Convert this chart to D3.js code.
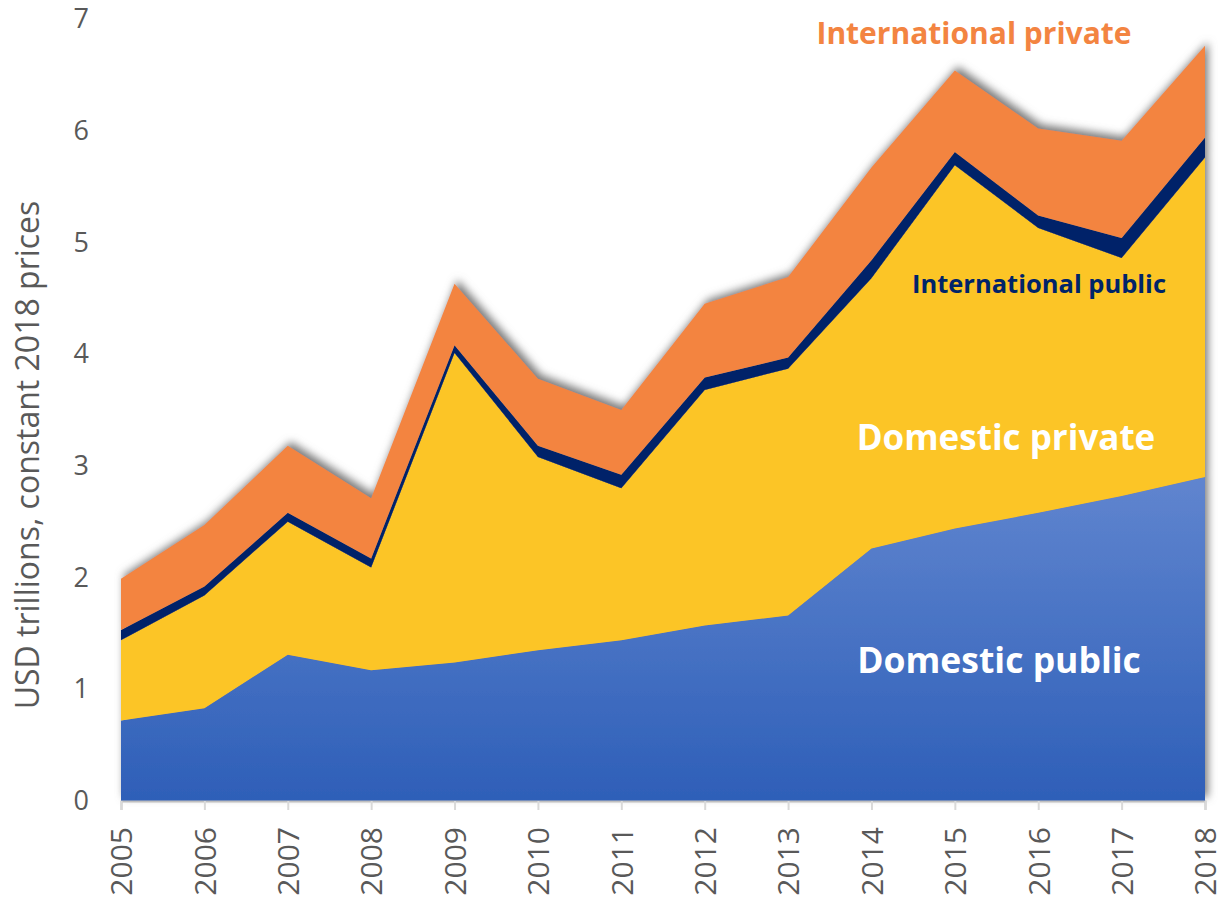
<!DOCTYPE html>
<html>
<head>
<meta charset="utf-8">
<script src="https://cdn.jsdelivr.net/npm/d3@7"></script>
<style>
  body { margin: 0; background: #fff; }
  svg { display: block; }
  .axis text { font-family: "Open Sans", sans-serif; fill: #595959; }
  .lbl { font-family: "Open Sans", sans-serif; font-weight: 700; }
</style>
</head>
<body>
<svg width="1225" height="903"></svg>
<script>
// data (USD trillions, constant 2018 prices)
var years = [2005, 2006, 2007, 2008, 2009, 2010, 2011, 2012, 2013, 2014, 2015, 2016, 2017, 2018];
var domesticPublic  = [0.72, 0.83, 1.31, 1.17, 1.24, 1.35, 1.44, 1.57, 1.66, 2.26, 2.44, 2.58, 2.73, 2.90];
var domesticPrivate = [0.72, 1.01, 1.19, 0.92, 2.77, 1.73, 1.36, 2.11, 2.21, 2.42, 3.25, 2.55, 2.13, 2.86];
var intlPublic      = [0.09, 0.08, 0.08, 0.08, 0.07, 0.10, 0.12, 0.11, 0.10, 0.16, 0.12, 0.11, 0.18, 0.18];
var intlPrivate     = [0.46, 0.55, 0.60, 0.54, 0.55, 0.60, 0.58, 0.66, 0.72, 0.83, 0.73, 0.78, 0.87, 0.82];
var seriesKeys = ["Domestic public", "Domestic private", "International public", "International private"];
var yTicks = [0, 1, 2, 3, 4, 5, 6, 7];

var svg = d3.select("svg"),
    margin = {top: 19, right: 20, bottom: 102, left: 121},
    width = +svg.attr("width") - margin.left - margin.right,
    height = +svg.attr("height") - margin.top - margin.bottom;

var g = svg.append("g").attr("transform", "translate(" + margin.left + "," + margin.top + ")");

// build table for the stack
var table = years.map(function(yr, i) {
  return {
    year: yr,
    "Domestic public": domesticPublic[i],
    "Domestic private": domesticPrivate[i],
    "International public": intlPublic[i],
    "International private": intlPrivate[i]
  };
});

var x = d3.scaleLinear().domain([2005, 2018]).range([0, width]);
var y = d3.scaleLinear().domain([0, 7]).range([height, 0]);

var stacked = d3.stack().keys(seriesKeys)(table);

var colors = {
  "Domestic public": "url(#blueGrad)",
  "Domestic private": "#fcc527",
  "International public": "#002469",
  "International private": "#f38441"
};

var defs = svg.append("defs");

var grad = defs.append("linearGradient")
    .attr("id", "blueGrad")
    .attr("gradientUnits", "userSpaceOnUse")
    .attr("x1", 0).attr("x2", 0)
    .attr("y1", y(2.9)).attr("y2", y(0));
grad.append("stop").attr("offset", "0%").attr("stop-color", "#6085cf");
grad.append("stop").attr("offset", "100%").attr("stop-color", "#2e5fb8");

// soft grey shadow round the stack
var filt = defs.append("filter")
    .attr("id", "shadow")
    .attr("x", "-5%").attr("y", "-10%")
    .attr("width", "110%").attr("height", "120%");
filt.append("feGaussianBlur").attr("in", "SourceAlpha").attr("stdDeviation", 4).attr("result", "blur");
filt.append("feOffset").attr("in", "blur").attr("dx", 3).attr("dy", -4).attr("result", "off");
filt.append("feFlood").attr("flood-color", "#7a7a7a").attr("flood-opacity", 1);
filt.append("feComposite").attr("in2", "off").attr("operator", "in").attr("result", "sh");
var merge = filt.append("feMerge");
merge.append("feMergeNode").attr("in", "sh");
merge.append("feMergeNode").attr("in", "SourceGraphic");

var area = d3.area()
    .x(function(d) { return x(d.data.year); })
    .y0(function(d) { return y(d[0]); })
    .y1(function(d) { return y(d[1]); });

g.append("g")
    .attr("filter", "url(#shadow)")
  .selectAll("path")
  .data(stacked)
  .enter().append("path")
    .attr("fill", function(d) { return colors[d.key]; })
    .attr("d", area);

// x axis
var xAxis = g.append("g")
    .attr("class", "axis")
    .attr("transform", "translate(0," + height + ")")
    .call(d3.axisBottom(x).tickValues(years).tickFormat(d3.format("d")).tickSize(9).tickPadding(6));
xAxis.select(".domain").attr("stroke", "#bfbfbf").attr("stroke-width", 2);
xAxis.selectAll(".tick line").attr("stroke", "#d9d9d9").attr("stroke-width", 2);
xAxis.selectAll(".tick text")
    .attr("font-size", 30)
    .attr("transform", "rotate(-90)")
    .attr("text-anchor", "end")
    .attr("x", -26)
    .attr("y", 0)
    .attr("dy", "0.36em");

// y axis (labels only)
var yAxis = g.append("g")
    .attr("class", "axis")
    .call(d3.axisLeft(y).tickValues(yTicks).tickFormat(d3.format("d")).tickSize(0).tickPadding(32));
yAxis.select(".domain").remove();
yAxis.selectAll(".tick text").attr("font-size", 27);

svg.append("text")
    .attr("class", "axis")
    .attr("transform", "translate(39," + 455 + ") rotate(-90)")
    .attr("text-anchor", "middle")
    .attr("font-family", "Open Sans, sans-serif")
    .attr("font-size", 32)
    .attr("fill", "#595959")
    .text("USD trillions, constant 2018 prices");

// series labels
var labels = [
  {text: "International private", x: 974, y: 44, size: 30, color: "#f38441"},
  {text: "International public", x: 1039, y: 293, size: 25.5, color: "#002469"},
  {text: "Domestic private", x: 1006, y: 450, size: 35, color: "#ffffff"},
  {text: "Domestic public", x: 999, y: 673, size: 35.5, color: "#ffffff"}
];
svg.selectAll(".lbl")
  .data(labels)
  .enter().append("text")
    .attr("class", "lbl")
    .attr("x", function(d) { return d.x; })
    .attr("y", function(d) { return d.y; })
    .attr("text-anchor", "middle")
    .attr("font-size", function(d) { return d.size; })
    .attr("fill", function(d) { return d.color; })
    .text(function(d) { return d.text; });
</script>
</body>
</html>
